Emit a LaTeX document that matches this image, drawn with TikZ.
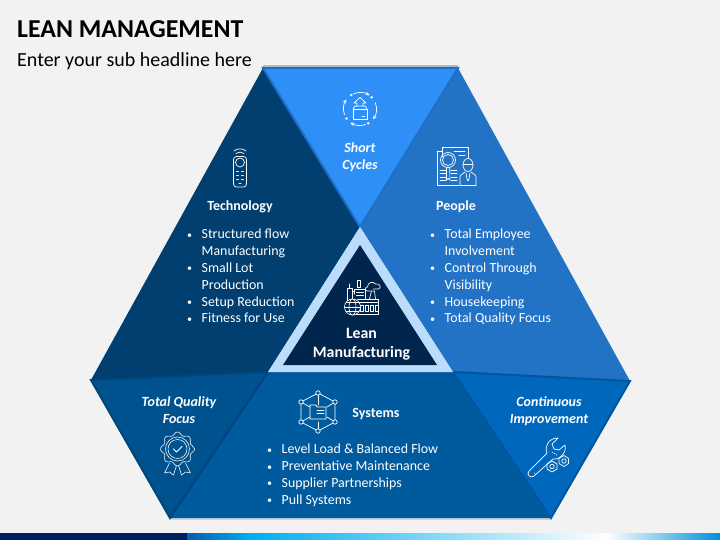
\documentclass[tikz,border=0pt]{standalone}
\usepackage{fontspec}
\setmainfont{Carlito}
\usepackage{tikz}
\definecolor{pagebg}{HTML}{F2F2F2}
\definecolor{techblue}{HTML}{003F70}
\definecolor{peopleblue}{HTML}{2272C5}
\definecolor{shortblue}{HTML}{2E90F7}
\definecolor{shortedge}{HTML}{1F6FC8}
\definecolor{qualblue}{HTML}{00528F}
\definecolor{qualedge}{HTML}{00457C}
\definecolor{sysblue}{HTML}{005A9E}
\definecolor{contblue}{HTML}{0068BC}
\definecolor{contedge}{HTML}{00569E}
\definecolor{ringblue}{HTML}{BBDDFB}
\definecolor{coreblue}{HTML}{00264D}
\definecolor{barnavy}{HTML}{001F60}
\definecolor{barstart}{HTML}{0B5CAD}
\definecolor{barcyan}{HTML}{00AEEF}
\definecolor{barend}{HTML}{0090DC}
\tikzset{
	headtext/.style={white, font=\fontsize{14}{17}\selectfont\bfseries, align=center},
	slanttext/.style={white, font=\fontsize{14}{17}\selectfont\bfseries\itshape, align=center},
	listtext/.style={white, font=\fontsize{13.9}{16.8}\selectfont, align=left, anchor=north west, inner sep=0pt},
	iconline/.style={white, line width=0.7pt, line join=round, line cap=round},
}
\newcommand{\bul}{\makebox[14.5pt][l]{\fontsize{10}{10}\selectfont\raisebox{0.5pt}{•}}}
\newcommand{\nobul}{\hspace*{14.5pt}}
\begin{document}
\begin{tikzpicture}[x=1pt, y=-1pt]
	\fill[pagebg] (0,0) rectangle (720,540);
	\useasboundingbox (0,0) rectangle (720,540);

	% corners of the big shape
	\coordinate (topl) at (263,68);
	\coordinate (topr) at (458,68);
	\coordinate (mid) at (360,227);
	\coordinate (left) at (91,380);
	\coordinate (right) at (630,381);
	\coordinate (ringl) at (268,372);
	\coordinate (ringr) at (453,372);
	\coordinate (botl) at (170,518);
	\coordinate (botr) at (551,518);
	\coordinate (corel) at (283,365);
	\coordinate (corer) at (437,365);
	\coordinate (coret) at (360,245);

	% soft shadows
	\draw[black!25, line width=2pt] ([yshift=1.5pt]topl) -- ([yshift=1.5pt]topr);
	\draw[black!18, line width=1.5pt] ([xshift=1pt,yshift=-1pt]botl) -- ([xshift=-1pt,yshift=-1pt]botr);
	\draw[black!18, line width=1.5pt] ([xshift=-1.5pt,yshift=-0.5pt]right) -- ([xshift=-1pt,yshift=-1pt]botr);

	\fill[techblue] (topl) -- (left) -- (ringl) -- (mid) -- cycle;
	\fill[peopleblue] (topr) -- (right) -- (ringr) -- (mid) -- cycle;
	\fill[sysblue] (ringl) -- (ringr) -- (botr) -- (botl) -- cycle;

	\filldraw[fill=shortblue, draw=shortedge, line width=2pt, line join=miter] (topl) -- (topr) -- (mid) -- cycle;
	\filldraw[fill=qualblue, draw=qualedge, line width=2pt] (left) -- (ringl) -- (botl) -- cycle;
	\filldraw[fill=contblue, draw=contedge, line width=2pt] (ringr) -- (right) -- (botr) -- cycle;

	\fill[ringblue] (mid) -- (ringr) -- (ringl) -- cycle;
	\fill[coreblue] (coret) -- (corer) -- (corel) -- cycle;

	% bottom bar
	\fill[barnavy] (0,533) rectangle (187,540);
	\shade[left color=barstart, right color=barcyan] (187,533) rectangle (250,540);
	\shade[left color=barcyan, right color=white] (250,533) rectangle (607,540);
	\shade[left color=white, right color=barend] (607,533) rectangle (720,540);

	% texts
	\node[anchor=west, inner sep=0pt, font=\fontsize{25.8}{30}\selectfont\bfseries] (title) at (17,29) {LEAN MANAGEMENT};
	\node[anchor=west, inner sep=0pt, font=\fontsize{20}{25}\selectfont] (subtitle) at (17,61) {Enter your sub headline here};

	\node[slanttext] (short) at (360,157.5) {Short\\Cycles};
	\node[headtext] (techhead) at (240,206.5) {Technology};
	\node[headtext] (peoplehead) at (456,206.5) {People};
	\node[headtext, font=\fontsize{15.8}{19}\selectfont\bfseries] (lean) at (361.5,344) {Lean\\Manufacturing};
	\node[headtext] (syshead) at (376,414) {Systems};
	\node[slanttext] (qual) at (179,410.5) {Total Quality\\Focus};
	\node[slanttext] (cont) at (549,411) {Continuous\\Improvement};

	\node[listtext] (techlist) at (187,229) {\bul Structured flow\\\nobul Manufacturing\\\bul Small Lot\\\nobul Production\\\bul Setup Reduction\\\bul Fitness for Use};
	\node[listtext] (peoplelist) at (430,229) {\bul Total Employee\\\nobul Involvement\\\bul Control Through\\\nobul Visibility\\\bul Housekeeping\\\bul Total Quality Focus};
	\node[listtext] (syslist) at (267,444) {\bul Level Load \& Balanced Flow\\\bul Preventative Maintenance\\\bul Supplier Partnerships\\\bul Pull Systems};

	% remote
	\begin{scope}[shift={(240,166)}, iconline]
		\draw[rounded corners=3pt] (-6.5,-9.5) rectangle (6.5,21);
		\draw (0,-3.5) circle (4.5);
		\draw (-6,-15) arc (-130:-50:9.3);
		\draw (-4,-12.5) arc (-130:-50:6.2);
		\foreach \yy in {5,9,13} {
			\draw (-3.5,\yy) -- (-1.5,\yy);
			\draw (1.5,\yy) -- (3.5,\yy);
		}
		\draw (-1,17) -- (1,17);
	\end{scope}

	% box and arrows
	\begin{scope}[shift={(360,109)}, iconline, >=stealth]
		\draw[->] (245:16.5) arc (245:305:16.5);
		\draw[->] (-22:16.5) arc (-22:38:16.5);
		\draw[->] (70:16.5) arc (70:125:16.5);
		\draw[->] (160:16.5) arc (160:215:16.5);
		\foreach \aa in {238,315,60,145} {
			\fill[white] (\aa:16.5) circle (1.4);
		}
		\draw (-7,0) -- (7,0) -- (7,10) -- (-7,10) -- cycle;
		\draw (-7,0) -- (-5,-3) -- (5,-3) -- (7,0);
		\draw (-3,-2.5) -- (-3,-6) -- (-6,-6) -- (0,-11.5) -- (6,-6) -- (3,-6) -- (3,-2.5);
		\draw (2,7.5) -- (5,7.5);
	\end{scope}

	% report and person
	\begin{scope}[shift={(456,166)}, iconline]
		\draw (-19,-15) -- (-14,-15) -- (-14,-19) -- (12,-19) -- (12,-8);
		\draw (-19,-15) -- (-19,19) -- (3,19);
		\draw (-14,-15) -- (-14,-9);
		\draw (-2,-15) -- (9,-15) (3,-11) -- (9,-11);
		\foreach \yy in {4,7.5,11,14.5} {
			\draw (-16,\yy) -- (-10,\yy);
			\draw (-5,\yy) -- (1,\yy);
		}
		\draw (-8,-6) circle (7.5);
		\draw (-8,-6) circle (5.5);
		\draw (-9.5,1.5) -- (-9.5,14) arc (180:360:1.7) -- (-6.2,1.5);
		\draw (12,-1) ellipse (5 and 6.5);
		\draw (7,-2) -- (17,-2);
		\draw (4,19) -- (4,11) .. controls (4,8) and (8,8) .. (9,6);
		\draw (20,19) -- (20,11) .. controls (20,8) and (16,8) .. (15,6);
		\draw (4,19) -- (20,19);
		\draw (10,7) -- (11,13) -- (12,15) -- (13,13) -- (14,7);
	\end{scope}

	% factory
	\begin{scope}[shift={(361.5,297)}, iconline, line width=0.65pt]
		\draw (-14,-9) rectangle (-9,8);
		\draw (-12,-9) -- (-12,-13) (-9,-6) -- (-7,-6) -- (-7,-3);
		\draw (-4,-17) -- (-4,-10) -- (-1,-10) -- (-1,-17) -- cycle;
		\draw (-7,-3) -- (-7,-8) -- (4,-8) -- (4,2);
		\draw (-5,-5) -- (2,-5) (-5,-2) -- (2,-2);
		\draw (-4,2) -- (17,2) -- (17,17) -- (-9,17);
		\draw (8,2) -- (10,-6) -- (13,-6) -- (14,2);
		\foreach \xx in {-1,4,9,13.5} {
			\draw (\xx,8) rectangle (\xx+3,14);
		}
		\draw (-3,5) -- (16,5);
		\filldraw[fill=coreblue] (-9,10) circle (8);
		\draw (-9,10) ellipse (3.5 and 8);
		\draw (-17,10) -- (-1,10) (-15.5,5.5) -- (-2.5,5.5) (-15.5,14.5) -- (-2.5,14.5);
		\draw (6,-6) .. controls (3,-6) and (3,-10) .. (6,-10) .. controls (6,-15) and (12,-16) .. (14,-13) .. controls (19,-14) and (20,-9) .. (17,-8) -- (12,-8) (6,-6) -- (9,-6);
	\end{scope}

	% network cube
	\begin{scope}[shift={(318,412)}, iconline]
		\draw (0,-19) -- (17,-10) -- (17,10) -- (0,19) -- (-17,10) -- (-17,-10) -- cycle;
		\draw (0,-19) -- (0,-7) (0,10) -- (0,19);
		\draw (-17,-10) -- (-8,-5) (17,-10) -- (9,-5) (-17,10) -- (-8,5) (17,10) -- (9,5);
		\foreach \pp in {(0,-19),(17,-10),(17,10),(0,19),(-17,10),(-17,-10)} {
			\filldraw[fill=sysblue] \pp circle (2.2);
		}
		\draw (-8,-7) -- (-2,-7) -- (-1,-5) -- (8,-5) -- (8,7) -- (-8,7) -- cycle;
		\draw (-1,-2) -- (6,-2) (-1,1) -- (6,1);
	\end{scope}

	% badge
	\begin{scope}[shift={(177.5,449)}, iconline, line width=0.55pt]
		\draw plot[smooth cycle, samples=48, domain=0:345, variable=\aa] ({(15.5+1.6*cos(8*\aa))*cos(\aa)},{(15.5+1.6*cos(8*\aa))*sin(\aa)});
		\draw (0,0) circle (12);
		\draw (0,0) circle (9.5);
		\draw[line width=0.8pt] (-4,0) -- (-1,3) -- (4.5,-2.5);
		\draw (-8,14) -- (-13,24) -- (-8,23) -- (-4,26) -- (-1,16.5);
		\draw (8,14) -- (13,24) -- (8,23) -- (4,26) -- (1,16.5);
	\end{scope}

	% wrench and nuts
	\begin{scope}[shift={(550,456)}, iconline]
		\draw (-21,15) -- (-3,-3) .. controls (-6,-10) and (-1,-18) .. (8,-18)
			-- (2,-12) -- (4,-7) -- (9,-6) -- (15,-11)
			.. controls (17,-3) and (9,4) .. (3,3) -- (-16,20)
			.. controls (-20,23) and (-24,18) .. (-21,15) -- cycle;
		\draw (-16,17) -- (-16,17.2);
		\draw[dash pattern=on 1pt off 1.5pt] (2,-4) -- (7,-1);
		\draw (9,2.5) -- (14,-0.5) -- (18.5,2.5) -- (18.5,7.5) -- (14,10.5) -- (9,7.5) -- cycle;
		\draw (14,5) circle (2.2);
		\draw (-3,8) -- (2,5) -- (7,8) -- (7,13) -- (2,16) -- (-3,13) -- cycle;
		\draw (2,10.5) circle (2.2);
	\end{scope}
\end{tikzpicture}
\end{document}
